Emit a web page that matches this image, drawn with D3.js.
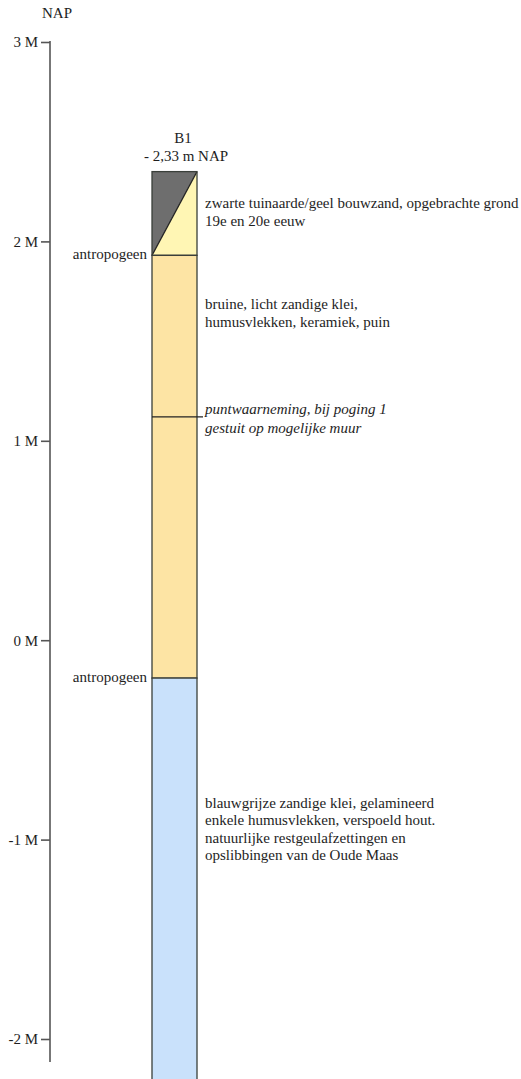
<!DOCTYPE html>
<html>
<head>
<meta charset="utf-8">
<script src="https://cdn.jsdelivr.net/npm/d3@7"></script>
<style>
  html, body { margin: 0; padding: 0; background: #fff; }
  svg { display: block; }
</style>
</head>
<body>
<div id="chart"></div>
<script>
// ── Data ──────────────────────────────────────────────────────────
const TICKS = [3, 2, 1, 0, -1, -2];
const TICK_LABELS = ['3 M', '2 M', '1 M', '0 M', '-1 M', '-2 M'];

const BORE_NAME = 'B1';
const BORE_TOP_LABEL = '- 2,33 m NAP';

// layers: top / bottom in m NAP
const LAYER_TOP = [2.35, 1.93, -0.19];
const LAYER_BOTTOM = [1.93, -0.19, -2.35];
const LAYER_FILL = ['split', '#fde4a4', '#c9e1fb'];
const LAYER_TEXT = [
  ['zwarte tuinaarde/geel bouwzand, opgebrachte grond', '19e en 20e eeuw'],
  ['bruine, licht zandige klei,', 'humusvlekken, keramiek, puin'],
  ['blauwgrijze zandige klei, gelamineerd', 'enkele humusvlekken, verspoeld hout.',
   'natuurlijke restgeulafzettingen en', 'opslibbingen van de Oude Maas']
];
const LAYER_TEXT_AT = [2.165, 1.66, -0.84]; // m NAP of first text line

const BOUNDARY_LABELS = [1.93, -0.19]; // 'antropogeen'

const OBS_LEVEL = 1.12;
const OBS_TEXT = ['puntwaarneming, bij poging 1', 'gestuit op mogelijke muur'];

// ── Setup ─────────────────────────────────────────────────────────
const W = 521, H = 1079;
const FONT = '"Liberation Serif", "Times New Roman", Times, serif';
const FS = '15px';
const INK = '#1e1e1e';

const svg = d3.select('#chart').append('svg')
  .attr('width', W).attr('height', H)
  .attr('viewBox', `0 0 ${W} ${H}`);

const y = d3.scaleLinear().domain([3, -2]).range([42, 1039]);
const colX0 = 152, colX1 = 197, textX = 205;

function label(sel) {
  return sel.style('font-family', FONT).style('font-size', FS).attr('fill', INK);
}

// ── Axis ──────────────────────────────────────────────────────────
const axis = d3.axisLeft(y)
  .tickValues(TICKS)
  .tickFormat((d, i) => TICK_LABELS[i])
  .tickSize(9)
  .tickPadding(3);

const gAxis = svg.append('g').attr('transform', 'translate(50,0)').call(axis);
gAxis.select('.domain').remove();
gAxis.selectAll('.tick line').attr('stroke', '#555').attr('stroke-width', 1.6);
label(gAxis.selectAll('.tick text'));

svg.append('line')
  .attr('x1', 50).attr('x2', 50)
  .attr('y1', y(3) - 1).attr('y2', y(-2) + 23)
  .attr('stroke', '#555').attr('stroke-width', 1.6);

label(svg.append('text'))
  .attr('x', 57).attr('y', 18)
  .attr('text-anchor', 'middle')
  .text('NAP');

// ── Boring header ────────────────────────────────────────────────
label(svg.append('text'))
  .attr('x', 183).attr('y', 143)
  .attr('text-anchor', 'middle')
  .text(BORE_NAME);
label(svg.append('text'))
  .attr('x', 186).attr('y', 161)
  .attr('text-anchor', 'middle')
  .text(BORE_TOP_LABEL);

// ── Layers ───────────────────────────────────────────────────────
LAYER_TOP.forEach((top, i) => {
  const y0 = y(top), y1 = y(LAYER_BOTTOM[i]);
  if (LAYER_FILL[i] === 'split') {
    svg.append('path')
      .attr('d', `M${colX0},${y0}L${colX1},${y0}L${colX0},${y1}Z`)
      .attr('fill', '#6e6e6e');
    svg.append('path')
      .attr('d', `M${colX1},${y0}L${colX1},${y1}L${colX0},${y1}Z`)
      .attr('fill', '#fff6b4');
    svg.append('line')
      .attr('x1', colX0).attr('y1', y1).attr('x2', colX1).attr('y2', y0)
      .attr('stroke', '#222').attr('stroke-width', 1.2);
  } else {
    svg.append('rect')
      .attr('x', colX0).attr('y', y0)
      .attr('width', colX1 - colX0).attr('height', y1 - y0)
      .attr('fill', LAYER_FILL[i]);
  }
  svg.append('rect')
    .attr('x', colX0).attr('y', y0)
    .attr('width', colX1 - colX0).attr('height', y1 - y0)
    .attr('fill', 'none').attr('stroke', '#3a3f3a').attr('stroke-width', 1.3);

  const t = label(svg.append('text'));
  LAYER_TEXT[i].forEach((line, k) => {
    t.append('tspan')
      .attr('x', textX).attr('y', y(LAYER_TEXT_AT[i]) + k * 17.5)
      .text(line);
  });
});

// ── Boundary labels ──────────────────────────────────────────────
BOUNDARY_LABELS.forEach(v => {
  label(svg.append('text'))
    .attr('x', 147).attr('y', y(v) + 4)
    .attr('text-anchor', 'end')
    .text('antropogeen');
});

// ── Observation ─────────────────────────────────────────────────
svg.append('line')
  .attr('x1', colX0).attr('x2', textX - 2)
  .attr('y1', y(OBS_LEVEL)).attr('y2', y(OBS_LEVEL))
  .attr('stroke', '#222').attr('stroke-width', 1.1);

const obs = label(svg.append('text')).style('font-style', 'italic');
OBS_TEXT.forEach((line, k) => {
  obs.append('tspan')
    .attr('x', textX).attr('y', y(OBS_LEVEL) - 3 + k * 19)
    .text(line);
});
</script>
</body>
</html>
